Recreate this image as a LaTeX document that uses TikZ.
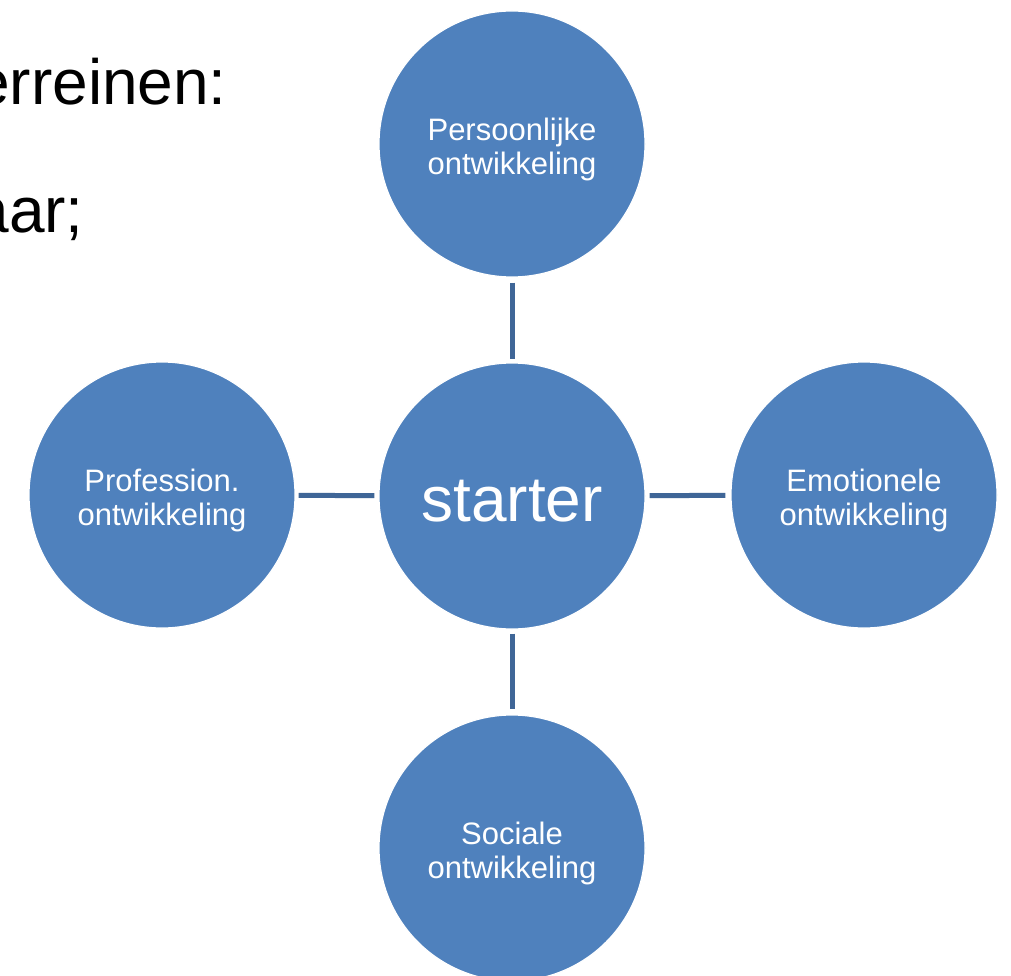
\documentclass[tikz,border=0pt]{standalone}
\usepackage{fontspec}
\setmainfont{Liberation Sans}
\definecolor{circblue}{HTML}{4F81BD}
\definecolor{connblue}{HTML}{3F6697}
\begin{document}
\begin{tikzpicture}[x=1pt,y=-1pt,
  bubble/.style={circle, fill=circblue, draw=white, line width=1.2pt, minimum size=266pt, inner sep=0pt},
  btext/.style={text=white, align=center, inner sep=0pt, yshift=-5pt, font=\fontsize{31}{34}\selectfont},
  htext/.style={btext, font=\fontsize{64}{70}\selectfont},
  conn/.style={draw=connblue, line width=5pt},
  bigtext/.style={font=\fontsize{64}{70}\selectfont, text=black, inner sep=0pt}]
\clip (0,0) rectangle (1011,976);
\fill[white] (0,0) rectangle (1011,976);
\node[bigtext, anchor=base east] (t1) at (227,105) {terreinen:};
\node[bigtext, anchor=base east] (t2) at (84,233) {aar;};
\node[bubble, label={[htext]center:starter}] (c) at (512,496) {};
\node[bubble, label={[btext]center:{Persoonlijke\\ontwikkeling}}] (p) at (512,144) {};
\node[bubble, label={[btext]center:{Emotionele\\ontwikkeling}}] (e) at (864,495) {};
\node[bubble, label={[btext]center:{Sociale\\ontwikkeling}}] (s) at (512,848) {};
\node[bubble, label={[btext]center:{Profession.\\ontwikkeling}}] (f) at (162,495) {};
\draw[conn, shorten <=5pt, shorten >=3pt] (p) -- (c);
\draw[conn, shorten <=4pt, shorten >=5pt] (c) -- (s);
\draw[conn, shorten <=3pt, shorten >=4pt] (f) -- (c);
\draw[conn, shorten <=4pt, shorten >=5pt] (c) -- (e);
\end{tikzpicture}
\end{document}
